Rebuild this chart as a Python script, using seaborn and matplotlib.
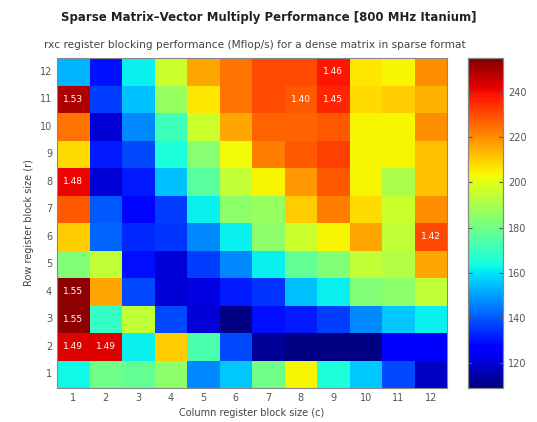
import numpy as np
import pandas as pd
import seaborn as sns
import matplotlib.pyplot as plt

# Mflop/s, rows r = 12 (top) .. 1 (bottom), columns c = 1 .. 12
row_sizes = [12, 11, 10, 9, 8, 7, 6, 5, 4, 3, 2, 1]
col_sizes = [1, 2, 3, 4, 5, 6, 7, 8, 9, 10, 11, 12]
r12 = [153, 130, 162, 196, 216, 224, 230, 230, 238, 206, 204, 220]
r11 = [249, 136, 155, 187, 206, 224, 230, 228, 236, 208, 210, 214]
r10 = [224, 120, 147, 171, 196, 216, 226, 226, 228, 204, 204, 220]
r9 = [208, 131, 138, 165, 184, 203, 222, 228, 232, 204, 204, 212]
r8 = [241, 120, 131, 155, 176, 194, 204, 218, 228, 204, 190, 212]
r7 = [228, 140, 128, 136, 162, 185, 187, 210, 222, 208, 196, 220]
r6 = [210, 142, 133, 135, 147, 162, 185, 196, 204, 216, 194, 231]
r5 = [183, 194, 129, 120, 136, 147, 162, 178, 183, 194, 192, 216]
r4 = [253, 216, 138, 120, 122, 131, 135, 155, 162, 183, 185, 194]
r3 = [253, 169, 194, 138, 120, 110, 129, 131, 136, 147, 156, 162]
r2 = [243, 243, 162, 210, 173, 138, 112, 110, 110, 110, 125, 125]
r1 = [163, 180, 178, 185, 147, 156, 180, 204, 165, 156, 138, 118]

# speedup labels over the 1x1 case
label_r = [12, 11, 11, 11, 8, 6, 4, 3, 2, 2]
label_c = [9, 1, 8, 9, 1, 12, 1, 1, 1, 2]
label_txt = ['1.46', '1.53', '1.40', '1.45', '1.48', '1.42', '1.55', '1.55', '1.49', '1.49']

cbar_ticks = [120, 140, 160, 180, 200, 220, 240]

df = pd.DataFrame([r12, r11, r10, r9, r8, r7, r6, r5, r4, r3, r2, r1],
                  index=row_sizes, columns=col_sizes)

fig = plt.figure(figsize=(5.37, 4.22), dpi=100)
ax = fig.add_axes([57/537, 1 - 388/422, 390/537, 330/422])
cax = fig.add_axes([468/537, 1 - 388/422, 35/537, 330/422])

sns.heatmap(df, ax=ax, cbar_ax=cax, cmap='jet', vmin=109, vmax=255,
            cbar_kws={'ticks': cbar_ticks})

for r, c, t in zip(label_r, label_c, label_txt):
    ax.text(col_sizes.index(c) + 0.5, row_sizes.index(r) + 0.5, t,
            color='white', ha='center', va='center', fontsize=6.5)

for s in ax.spines.values():
    s.set_visible(True)
    s.set_color('#888888')
    s.set_linewidth(0.8)
ax.tick_params(axis='both', length=0, labelsize=7, colors='#555555')
ax.set_yticklabels(row_sizes, rotation=0)
ax.set_xticklabels(col_sizes, rotation=0)
ax.set_xlabel('Column register block size (c)', fontsize=7, color='#444444')
ax.set_ylabel('Row register block size (r)', fontsize=7, color='#444444')

cax.tick_params(direction='in', length=3, labelsize=7, colors='#555555',
                left=True, right=True)
for s in cax.spines.values():
    s.set_visible(True)
    s.set_color('#888888')
    s.set_linewidth(0.8)

fig.text(0.5, 1 - 17/422, 'Sparse Matrix–Vector Multiply Performance [800 MHz Itanium]',
         ha='center', va='center', fontsize=8.5, fontweight='bold', color='#222222')
fig.text(0.475, 1 - 45/422,
         'rxc register blocking performance (Mflop/s) for a dense matrix in sparse format',
         ha='center', va='center', fontsize=7.6, color='#444444')

fig.savefig('out.png', dpi=100)
